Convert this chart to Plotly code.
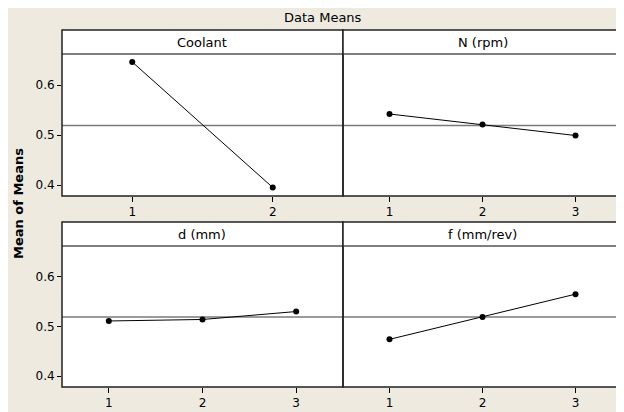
import plotly.graph_objects as go

# ---- data ----
factor_names = ["Coolant", "N (rpm)", "d (mm)", "f (mm/rev)"]
coolant_levels = [1, 2]
coolant_means = [0.646, 0.395]
n_levels = [1, 2, 3]
n_means = [0.542, 0.521, 0.499]
d_levels = [1, 2, 3]
d_means = [0.511, 0.514, 0.530]
f_levels = [1, 2, 3]
f_means = [0.474, 0.519, 0.565]
grand_mean = 0.519
y_ticks = [0.4, 0.5, 0.6]
y_range = [0.378, 0.662]

OFF = 8  # page body margin
W, H = 624 - OFF, 412 - OFF
BG = "#EEEAE0"
FONT = "Tahoma, DejaVu Sans, Verdana, sans-serif"

def px_x(p):
    return (p - OFF) / W

def px_y(p):
    return (H - (p - OFF)) / H

# panel geometry (viewport pixels)
cols = [(62, 343), (343, 622)]
rows = [(30, 54, 196), (222, 246, 387)]  # top of strip, top of data, bottom

series = [
    (coolant_levels, coolant_means, [0.5, 2.5]),
    (n_levels, n_means, [0.5, 3.5]),
    (d_levels, d_means, [0.5, 3.5]),
    (f_levels, f_means, [0.5, 3.5]),
]

fig = go.Figure()
layout = {}
shapes = []
annotations = []

for i, (lv, mv, xr) in enumerate(series):
    r, c = divmod(i, 2)
    x0, x1 = cols[c]
    st, dt, db = rows[r]
    k = i + 1
    xa = "x" if k == 1 else f"x{k}"
    ya = "y" if k == 1 else f"y{k}"
    fig.add_trace(go.Scatter(
        x=lv, y=mv, mode="lines+markers", xaxis=xa, yaxis=ya,
        line=dict(color="black", width=1),
        marker=dict(color="black", size=6),
        showlegend=False, hoverinfo="skip"))
    layout["xaxis" if k == 1 else f"xaxis{k}"] = dict(
        domain=[px_x(x0), px_x(x1)], anchor=ya, range=xr,
        tickmode="array", tickvals=lv, ticktext=[str(v) for v in lv],
        ticks="outside", ticklen=5, tickcolor="black", tickwidth=1,
        showline=False, showgrid=False, zeroline=False,
        tickfont=dict(family=FONT, size=12, color="black"))
    layout["yaxis" if k == 1 else f"yaxis{k}"] = dict(
        domain=[px_y(db), px_y(dt)], anchor=xa, range=y_range,
        tickmode="array", tickvals=y_ticks,
        showticklabels=(c == 0),
        ticks="outside" if c == 0 else "", ticklen=4, tickcolor="black",
        showline=False, showgrid=False, zeroline=False,
        tickfont=dict(family=FONT, size=12, color="black"))
    # mean reference line
    shapes.append(dict(type="line", xref=f"{xa} domain", yref=ya,
                       x0=0, x1=1, y0=grand_mean, y1=grand_mean,
                       line=dict(color="#7a7a7a", width=1.5), layer="below"))
    # strip
    shapes.append(dict(type="rect", xref="paper", yref="paper",
                       x0=px_x(x0), x1=px_x(x1), y0=px_y(dt), y1=px_y(st),
                       fillcolor="white", line=dict(width=0)))
    shapes.append(dict(type="line", xref="paper", yref="paper",
                       x0=px_x(x0), x1=px_x(x1), y0=px_y(dt), y1=px_y(dt),
                       line=dict(color="#555555", width=1.5)))
    # panel border
    shapes.append(dict(type="rect", xref="paper", yref="paper",
                       x0=px_x(x0), x1=px_x(x1), y0=px_y(db), y1=px_y(st),
                       line=dict(color="#222222", width=1.5)))
    annotations.append(dict(text=factor_names[i], xref="paper", yref="paper",
                            x=(px_x(x0) + px_x(x1)) / 2, y=(px_y(dt) + px_y(st)) / 2,
                            xanchor="center", yanchor="middle", showarrow=False,
                            font=dict(family=FONT, size=13, color="black")))

annotations.append(dict(text="Data Means", xref="paper", yref="paper",
                        x=px_x(323), y=px_y(17), xanchor="center", yanchor="middle",
                        showarrow=False, font=dict(family=FONT, size=13, color="black")))
annotations.append(dict(text="<b>Mean of Means</b>", xref="paper", yref="paper",
                        x=px_x(18), y=px_y(204), xanchor="center", yanchor="middle",
                        textangle=-90, showarrow=False,
                        font=dict(family=FONT, size=13, color="black")))

fig.update_layout(
    width=W, height=H, margin=dict(l=0, r=0, t=0, b=0),
    paper_bgcolor=BG, plot_bgcolor="white",
    shapes=shapes, annotations=annotations, **layout)

fig.write_html("out.html")
